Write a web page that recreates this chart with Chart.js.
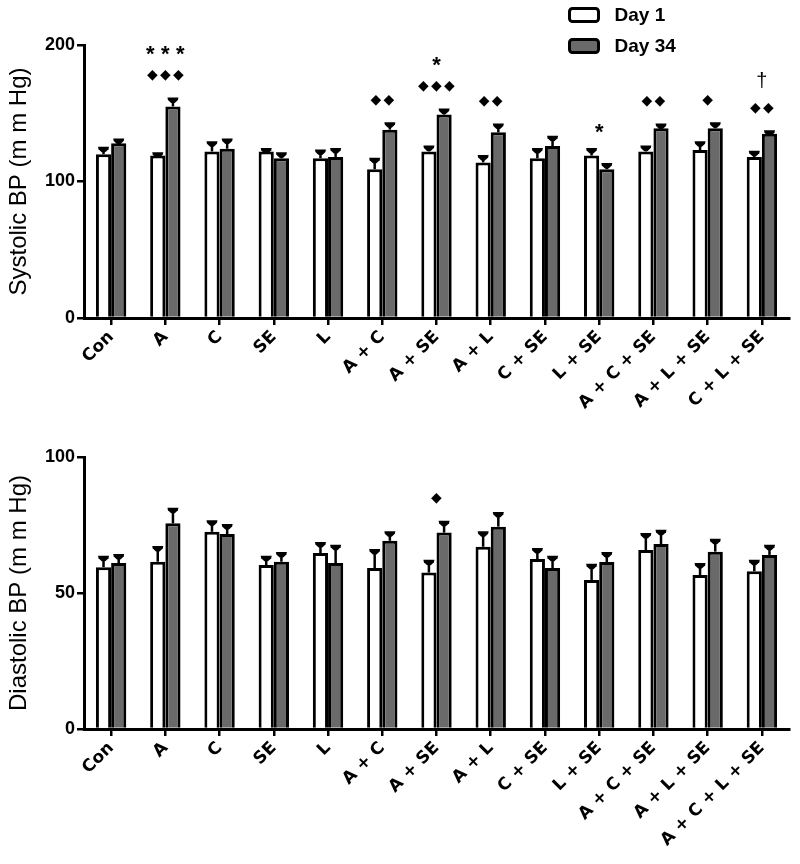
<!DOCTYPE html>
<html><head><meta charset="utf-8">
<script src="https://cdn.jsdelivr.net/npm/chart.js@4.4.1/dist/chart.umd.min.js"></script>
<style>
html,body{margin:0;padding:0;background:#fff;}
#wrap{position:relative;width:800px;height:864px;background:#fff;}
#c1{position:absolute;left:0;top:0;}
#c2{position:absolute;left:0;top:430px;}
</style></head><body>
<div id="wrap"><canvas id="c1" width="800" height="430"></canvas><canvas id="c2" width="800" height="434"></canvas></div>
<script>
// ---- data ----
const sysCategories = ['Con','A','C','SE','L','A + C','A + SE','A + L','C + SE','L + SE','A + C + SE','A + L + SE','C + L + SE'];
const diaCategories = ['Con','A','C','SE','L','A + C','A + SE','A + L','C + SE','L + SE','A + C + SE','A + L + SE','A + C + L + SE'];
const seriesNames = ['Day 1','Day 34'];

const sysDay1     = [120, 119, 122, 122, 117, 109, 122, 114, 117, 119, 122, 123, 118];
const sysDay1Err  = [4, 1, 6, 1, 5, 7, 3, 4, 6, 4, 3, 5, 3];
const sysDay34    = [128, 155, 124, 117, 118, 138, 149, 136, 126, 109, 139, 139, 135];
const sysDay34Err = [2, 5, 6, 3, 5, 4, 3, 5, 6, 3, 2, 3, 1];

const diaDay1     = [59.5, 61.5, 72.5, 60.3, 64.7, 59.2, 57.5, 67.0, 62.5, 54.8, 65.8, 56.6, 58.0];
const diaDay1Err  = [3.5, 5.0, 3.5, 2.7, 3.3, 6.2, 4.0, 5.0, 3.3, 5.2, 5.5, 3.7, 3.5];
const diaDay34    = [61.0, 75.6, 71.7, 61.5, 61.0, 69.2, 72.2, 74.4, 59.2, 61.4, 68.0, 65.2, 64.0];
const diaDay34Err = [2.6, 5.0, 2.9, 2.8, 6.0, 2.8, 3.6, 4.6, 3.8, 2.9, 4.5, 4.0, 3.0];

const sysTicks = {min: 0, max: 200, step: 100};
const diaTicks = {min: 0, max: 100, step: 50};

// significance marks, rows from bottom to top
const sysMarks = [[], ['◆◆◆','***'], [], [], [], ['◆◆'], ['◆◆◆','*'], ['◆◆'], [], ['*'], ['◆◆'], ['◆'], ['◆◆','†']];
const diaMarks = [[], [], [], [], [], [], ['◆'], [], [], [], [], [], []];

// ---- plugins ----
const errorBarPlugin = {
  id: 'errorBars',
  afterDatasetsDraw(chart) {
    const ctx = chart.ctx, ys = chart.scales.y;
    ctx.save();
    ctx.strokeStyle = '#000'; ctx.fillStyle = '#000';
    chart.data.datasets.forEach((ds, di) => {
      const meta = chart.getDatasetMeta(di);
      meta.data.forEach((bar, j) => {
        const yTop = ys.getPixelForValue(ds.data[j] + ds.errors[j]);
        const x = bar.x;
        ctx.lineWidth = 2.5;
        ctx.beginPath(); ctx.moveTo(x, bar.y); ctx.lineTo(x, yTop); ctx.stroke();
        ctx.beginPath();
        ctx.moveTo(x - 5.5, yTop - 2);
        ctx.lineTo(x + 5.5, yTop - 2);
        ctx.lineTo(x + 5, yTop + 0.5);
        ctx.lineTo(x + 1.8, yTop + 3.5);
        ctx.lineTo(x - 1.8, yTop + 3.5);
        ctx.lineTo(x - 5, yTop + 0.5);
        ctx.closePath(); ctx.fill();
      });
    });
    ctx.restore();
  }
};

function drawMarkRow(ctx, txt, cx, cy) {
  const chars = [...txt];
  ctx.save();
  ctx.fillStyle = '#000';
  ctx.textAlign = 'center';
  chars.forEach((ch, k) => {
    if (ch === '◆') {
      const sp = 13, x0 = cx - (chars.length - 1) * sp / 2;
      ctx.font = '14px "DejaVu Sans"';
      ctx.textBaseline = 'middle';
      ctx.fillText(ch, x0 + k * sp, cy);
    } else if (ch === '*') {
      const sp = 15, x0 = cx - (chars.length - 1) * sp / 2;
      ctx.font = 'bold 22px "Liberation Sans", Arial';
      ctx.textBaseline = 'alphabetic';
      ctx.fillText(ch, x0 + k * sp, cy + 12.5);
    } else {
      ctx.font = '20px "Liberation Sans", Arial';
      ctx.textBaseline = 'alphabetic';
      ctx.fillText(ch, cx, cy + 6);
    }
  });
  ctx.restore();
}

const marksPlugin = {
  id: 'marks',
  afterDatasetsDraw(chart, args, opts) {
    const ctx = chart.ctx, ys = chart.scales.y, xs = chart.scales.x;
    (opts.marks || []).forEach((rows, j) => {
      if (!rows.length) return;
      let errTop = Infinity;
      chart.data.datasets.forEach(ds => {
        errTop = Math.min(errTop, ys.getPixelForValue(ds.data[j] + ds.errors[j]));
      });
      const cx = xs.getPixelForValue(j);
      rows.forEach((txt, r) => drawMarkRow(ctx, txt, cx, errTop - 24 - 27 * r));
    });
  }
};

const boxLegendPlugin = {
  id: 'boxLegend',
  afterDraw(chart, args, opts) {
    if (!opts.show) return;
    const ctx = chart.ctx;
    chart.data.datasets.forEach((ds, i) => {
      const bx = opts.x, by = opts.y + i * opts.gap;
      ctx.save();
      ctx.fillStyle = ds.backgroundColor;
      ctx.strokeStyle = '#000'; ctx.lineWidth = 3;
      ctx.beginPath(); ctx.roundRect(bx, by, 29, 13, 3); ctx.fill(); ctx.stroke();
      ctx.fillStyle = '#000';
      ctx.font = 'bold 19px "Liberation Sans", Arial';
      ctx.textBaseline = 'middle'; ctx.textAlign = 'left';
      ctx.fillText(ds.label, bx + 45, by + 7);
      ctx.restore();
    });
  }
};

function makeChart(id, cats, d1, e1, d34, e34, ticks, marks, title, layout, showLegend) {
  return new Chart(document.getElementById(id), {
    type: 'bar',
    data: {
      labels: cats,
      datasets: [
        {label: seriesNames[0], data: d1, errors: e1, backgroundColor: '#ffffff', borderColor: '#000', borderWidth: 3,
         categoryPercentage: 0.56, barPercentage: 1.0},
        {label: seriesNames[1], data: d34, errors: e34, backgroundColor: '#6a6a6a', borderColor: '#000', borderWidth: 3,
         categoryPercentage: 0.56, barPercentage: 1.0}
      ]
    },
    options: {
      responsive: false,
      animation: false,
      events: [],
      layout: {padding: {top: layout.top, right: 11, left: 0, bottom: 0}},
      plugins: {
        legend: {display: false},
        tooltip: {enabled: false},
        marks: {marks: marks},
        boxLegend: {show: showLegend, x: 569.5, y: 8.5, gap: 31}
      },
      scales: {
        x: {
          offset: true,
          grid: {display: true, drawOnChartArea: false, drawTicks: true, tickLength: 7, color: '#000', lineWidth: 2.5, offset: false},
          border: {display: true, color: '#000', width: 3},
          ticks: {color: '#000', font: {family: '"DejaVu Sans"', weight: 'bold', size: 17}, minRotation: 45, maxRotation: 45, autoSkip: false, padding: 2},
          afterFit(s) { s.height = layout.xh; }
        },
        y: {
          min: ticks.min, max: ticks.max,
          grid: {display: true, drawOnChartArea: false, drawTicks: true, tickLength: 7, color: '#000', lineWidth: 2.5},
          border: {display: true, color: '#000', width: 3},
          ticks: {stepSize: ticks.step, color: '#000', font: {family: '"Liberation Sans", Arial', weight: 'bold', size: 18}, padding: 2},
          title: {display: true, text: title, color: '#000', font: {family: '"Liberation Sans", Arial', size: 24}, padding: {top: 5, bottom: 0}},
          afterFit(s) { s.width = 84; }
        }
      }
    },
    plugins: [errorBarPlugin, marksPlugin, boxLegendPlugin]
  });
}

makeChart('c1', sysCategories, sysDay1, sysDay1Err, sysDay34, sysDay34Err, sysTicks, sysMarks,
  'Systolic BP (m m Hg)', {top: 45, xh: 112}, true);
makeChart('c2', diaCategories, diaDay1, diaDay1Err, diaDay34, diaDay34Err, diaTicks, diaMarks,
  'Diastolic BP (m m Hg)', {top: 27, xh: 135}, false);
</script>
</body></html>
